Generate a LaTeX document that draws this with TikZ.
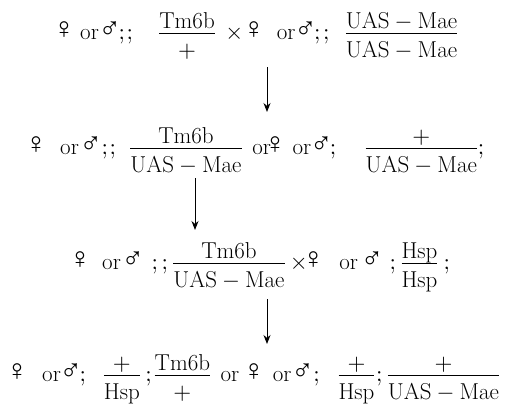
\RequirePackage{fix-cm}
\documentclass[tikz,border=0pt]{standalone}
\usepackage{fontspec}
\usetikzlibrary{arrows.meta}
\DeclareFontShape{OT1}{cmr}{m}{n}{<->cmr10}{}
\newfontfamily\gsym{Liberation Serif}
\nulldelimiterspace=0pt
\newcommand\fm{\makebox[8pt]{\raisebox{0.5pt}{\scalebox{1.3}{\gsym ♀}}}}
\newcommand\ml{\makebox[9pt]{\raisebox{0.5pt}{\scalebox{1.3}{\gsym ♂}}}}
\newcommand\wor{\mathrm{or}}
\newcommand\semi{{;}}
\newcommand\um{\mathrm{UAS}-\mathrm{Mae}}
\newcommand\fr[2]{\frac{\textstyle\rule[-4.6pt]{0pt}{0pt}#1}{\textstyle\rule{0pt}{24pt}#2}}
\begin{document}
\begin{tikzpicture}[x=1pt,y=-1pt]
  \useasboundingbox (0,0) rectangle (523,408);

  \begin{scope}[every node/.style={anchor=base west, inner sep=0pt, font=\fontsize{23}{28}\selectfont}]
    \node (1) at (60,39)  {$\fm\hspace{12pt}\wor\hspace{6.5pt}\ml\hspace{4.2pt}\semi\hspace{1.6pt}\semi\hspace{26.4pt}\fr{\mathrm{Tm6b}}{+}\hspace{10.5pt}{\times}\hspace{6.6pt}\fm\hspace{19pt}\wor\hspace{5.5pt}\ml\hspace{4.2pt}\semi\hspace{2.6pt}\semi\hspace{16.4pt}\fr{\um}{\um}$};
    \node (2) at (32,154) {$\fm\hspace{20pt}\wor\hspace{7.5pt}\ml\hspace{6.2pt}\semi\hspace{1.6pt}\semi\hspace{14.4pt}\fr{\mathrm{Tm6b}}{\um}\hspace{10.8pt}\wor\fm\hspace{13.5pt}\wor\hspace{5.5pt}\ml\hspace{4.2pt}\semi\hspace{29.4pt}\fr{+}{\um}\hspace{1pt}\semi$};
    \node (3) at (76,269) {$\fm\hspace{18pt}\wor\hspace{7.5pt}\ml\hspace{14.2pt}\semi\hspace{3.6pt}\semi\hspace{5.4pt}\fr{\mathrm{Tm6b}}{\um}\hspace{5.3pt}{\times}\hspace{1.6pt}\fm\hspace{22pt}\wor\hspace{9.5pt}\ml\hspace{13.2pt}\semi\hspace{5.4pt}\fr{\mathrm{Hsp}}{\mathrm{Hsp}}\hspace{6.1pt}\semi$};
    \node (4) at (13,381) {$\fm\hspace{21pt}\wor\hspace{5.5pt}\ml\hspace{4.2pt}\semi\hspace{17.9pt}\fr{+}{\mathrm{Hsp}}\hspace{5.6pt}\semi\hspace{2.9pt}\fr{\mathrm{Tm6b}}{+}\hspace{10.5pt}\wor\hspace{10.5pt}\fm\hspace{15pt}\wor\hspace{6.5pt}\ml\hspace{6.2pt}\semi\hspace{18.9pt}\fr{+}{\mathrm{Hsp}}\hspace{1.6pt}\semi\hspace{5.4pt}\fr{+}{\um}$};
  \end{scope}

  % arrow ends
  \coordinate (t1) at (267,67);
  \coordinate (h1) at (267,112);
  \coordinate (t2) at (195,178);
  \coordinate (h2) at (195,230);
  \coordinate (t3) at (267,299);
  \coordinate (h3) at (267,344);

  \begin{scope}[every edge/.style={draw, line width=1pt, -{Stealth[length=9pt,width=7pt]}}]
    \path (t1) edge (h1);
    \path (t2) edge (h2);
    \path (t3) edge (h3);
  \end{scope}

\end{tikzpicture}
\end{document}
